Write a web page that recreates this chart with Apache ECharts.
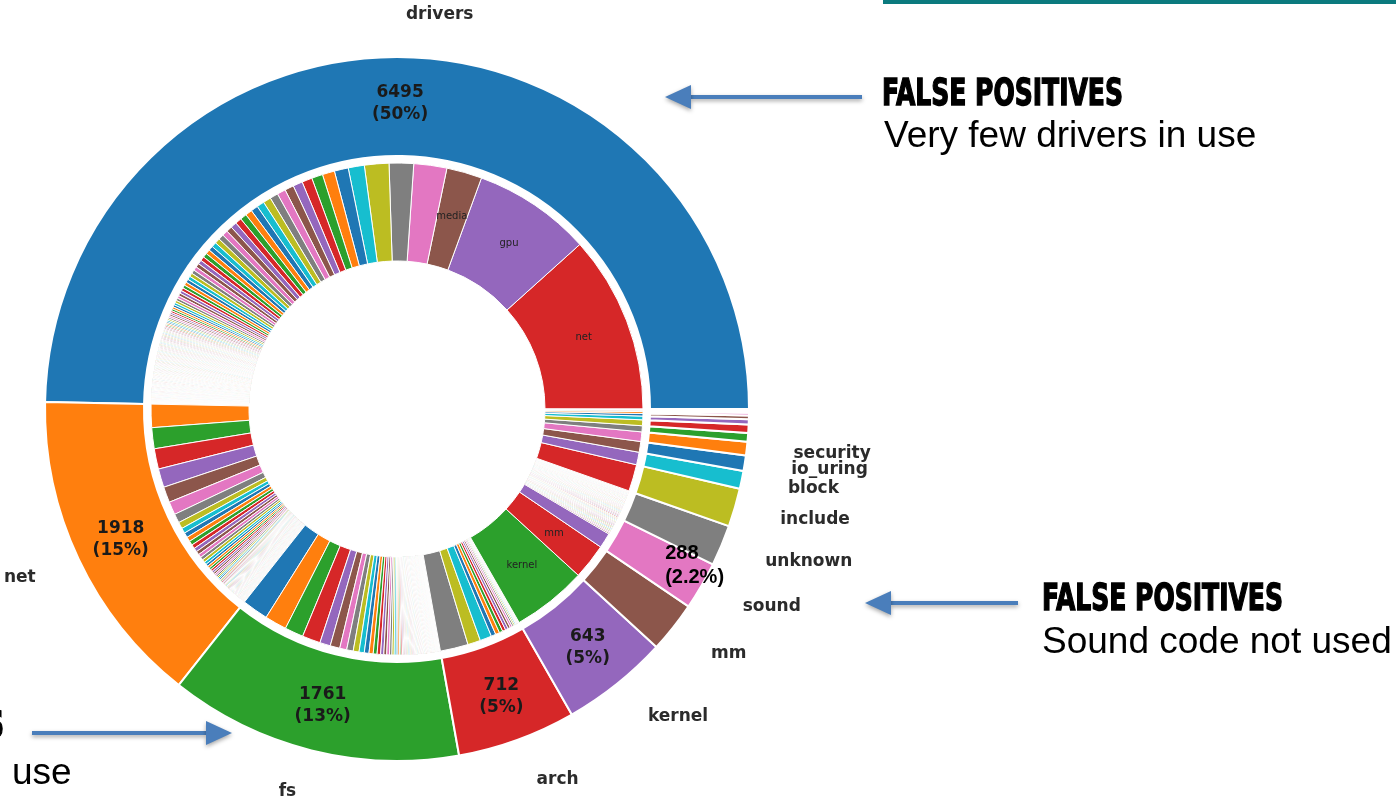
<!DOCTYPE html>
<html>
<head>
<meta charset="utf-8">
<script src="https://cdn.jsdelivr.net/npm/echarts@6/dist/echarts.min.js"></script>
<style>
html,body{margin:0;padding:0;background:#fff;}
#chart{width:1396px;height:801px;}
</style>
</head>
<body>
<div id="chart"></div>
<script>
// ---------------- DATA ----------------
const categories = ['drivers','net','fs','arch','kernel','mm','sound','unknown','include','block','io_uring','security','crypto','lib','virt','ipc','init','certs','samples','scripts'];
const categoryValues = [6495,1918,1761,712,643,305,288,245,230,108,92,82,52,50,32,22,16,10,7,5];
const namedCategories = ['drivers','net','fs','arch','kernel','mm','sound','unknown','include','block','io_uring','security'];
const percentCategories = ['drivers','net','fs','arch','kernel'];
const annotatedCategory = 'sound';

// sub-directory counts (inner ring), per top-level directory
const driversSub = [1525,1014,304,283,210,210,
  138,120,105,95,88,82,77,73,70,67,64,61,58,56,54,52,50,48,46,44,42,40,38,37,36,
  35,34,33,32,31,30,29,28,27,26,25,24,23,22,21,20,19,18,17,16,15,15,14,14,13,13,12,12,11,11,10,10,
  9,9,9,9,9,9,9,9,9,9,
  8,8,8,8,8,8,8,8,8,8,8,8,
  7,7,7,7,7,7,7,7,7,7,7,7,7,7,
  6,6,6,6,6,6,6,6,6,6,6,6,6,6,6,6,
  5,5,5,5,5,5,5,5,5,5,5,5,5,5,5,5,5,5,
  4,4,4,4,4,4,4,4,4,4,4,4,4,4,4,4,4,4,4,4,
  3,3,3,3,3,3,3,3,3,3,3,3,3,3,3,3,3,3,3,3,
  2,2,2,2,2,2,2,2,2,2,2,2,2,
  1,1,1,1,1,1,1,1,1,1,1,1];
const driversSubNames = ['net','gpu','media'];
const netSub = [200,180,175,160,135,112,78,56,
  45,42,40,37,35,33,31,29,27,25,23,21,20,19,18,17,16,15,14,13,12,11,10,10,
  9,9,9,8,8,8,8,8,7,7,7,7,7,6,6,6,6,6,6,5,5,5,5,5,5,5,5,
  4,4,4,4,4,4,4,4,3,3,3,3,3,3,3,3,3,2,2,2,2,2,2,2,2,2,1,1,1,1];
const fsSub = [225,188,160,156,91,83,60,56,50,45,
  40,36,33,30,27,25,23,21,19,17,15,14,13,12,11,10,
  9,9,9,9,8,8,8,8,8,7,7,7,7,7,7,6,6,6,6,6,6,6,5,5,5,5,5,5,5,5,
  4,4,4,4,4,4,4,4,4,3,3,3,3,3,3,3,3,3,3,2,2,2,2,2,2,2,2,2,2,2,2,2,1,1,1,1,1,1,1,1,1];
const archSub = [240,110,100,40,35,30,27,24,21,18,15,12,10,4,4,3,3,3,3,2,2,2,2,1,1];
const kernelSub = [643];
const kernelSubNames = ['kernel'];
const mmSub = [305];
const mmSubNames = ['mm'];
const soundSub = [130,11,10,10,10,9,9,9,9,9,9,8,8,8,8,8,8,8,7];
const unknownSub = [10,10,9,9,9,8,8,8,8,7,7,7,7,7,6,6,6,6,6,6,5,5,5,5,5,5,4,4,4,4,4,4,4,3,3,3,3,3,3,3,2,2,2,2,2,2,1,1,1,1];
const includeSub = [230];
const blockSub = [108];
const ioUringSub = [92];
const securitySub = [82];
const cryptoSub = [52];
const libSub = [50];
const virtSub = [32];
const ipcSub = [22];
const initSub = [16];
const certsSub = [10];
const samplesSub = [7];
const scriptsSub = [5];

const subGroups = [driversSub,netSub,fsSub,archSub,kernelSub,mmSub,soundSub,unknownSub,includeSub,blockSub,ioUringSub,securitySub,cryptoSub,libSub,virtSub,ipcSub,initSub,certsSub,samplesSub,scriptsSub];
const subGroupNames = {drivers: driversSubNames, kernel: kernelSubNames, mm: mmSubNames};

// slide annotations
const noteTitle = 'FALSE POSITIVES';
const noteDrivers = 'Very few drivers in use';
const noteSound = 'Sound code not used';
const noteFsTail = 'use';

// ---------------- STYLE ----------------
const TAB10 = ['#1f77b4','#ff7f0e','#2ca02c','#d62728','#9467bd','#8c564b','#e377c2','#7f7f7f','#bcbd22','#17becf'];
const INNER_COLOR_START = 3;
const CENTER = [397, 409];
const OUTER_RADIUS = [253, 352];
const INNER_RADIUS = [148, 246];
const ARROW = '#4a7ebb';

const outerData = categories.map((c, i) => ({
  name: c, value: categoryValues[i],
  itemStyle: {color: TAB10[i % 10]},
  label: {show: namedCategories.includes(c)}
}));
const pctData = categories.map((c, i) => {
  const d = {name: c, value: categoryValues[i], label: {show: percentCategories.includes(c) || c === annotatedCategory}};
  if (c === annotatedCategory) d.label.padding = [6, 0, 0, 72];
  return d;
});
const innerData = [];
let gi = 0;
categories.forEach((c, ci) => {
  const names = subGroupNames[c] || [];
  subGroups[ci].forEach((v, j) => {
    innerData.push({
      name: names[j] || (c + '/' + (j + 1)), value: v,
      itemStyle: {color: TAB10[(INNER_COLOR_START + gi) % 10]},
      label: {show: !!names[j]}
    });
    gi++;
  });
});

function fitScale(text, font, target) {
  const ctx = document.createElement('canvas').getContext('2d');
  ctx.font = font;
  return target / ctx.measureText(text).width;
}
const titleFont = 'bold 37px "Liberation Sans Narrow", "DejaVu Sans Condensed", "Liberation Sans", sans-serif';
const titleScale = fitScale(noteTitle, titleFont, 241);
const bodyFont = '37px "Liberation Sans", Arial, sans-serif';

function arrow(x1, x2, y) { // from x1 (tail) to x2 (tip)
  const dir = x2 > x1 ? 1 : -1;
  const base = x2 - dir * 26;
  const sh = {shadowBlur: 4, shadowColor: 'rgba(0,0,0,0.35)', shadowOffsetY: 2};
  return [
    {type: 'line', silent: true, shape: {x1: x1, y1: y, x2: base, y2: y}, style: Object.assign({stroke: ARROW, lineWidth: 4}, sh)},
    {type: 'polygon', silent: true, shape: {points: [[x2, y], [base, y - 12], [base, y + 12]]}, style: Object.assign({fill: ARROW}, sh)}
  ];
}
function title(x, y, align) {
  return {type: 'text', x: x, y: y, scaleX: titleScale, silent: true,
    style: {text: noteTitle, font: titleFont, fill: '#000', stroke: '#000', lineWidth: 1.4, align: align || 'left', verticalAlign: 'middle'}};
}
function body(x, y, t) {
  return {type: 'text', x: x, y: y, silent: true, style: {text: t, font: bodyFont, fill: '#000', align: 'left', verticalAlign: 'middle'}};
}

const chart = echarts.init(document.getElementById('chart'), null, {renderer: 'canvas'});
chart.setOption({
  animation: false,
  backgroundColor: '#fff',
  series: [
    {
      type: 'pie', center: CENTER, radius: OUTER_RADIUS, startAngle: 0, clockwise: false,
      avoidLabelOverlap: false, silent: true,
      labelLayout: {hideOverlap: false},
      itemStyle: {borderColor: '#fff', borderWidth: 2},
      label: {position: 'outside', fontFamily: 'DejaVu Sans', fontSize: 17, fontWeight: 'bold', color: '#2b2b2b', distanceToLabelLine: 5},
      labelLine: {show: false, length: 42, length2: 0},
      data: outerData
    },
    {
      type: 'pie', center: CENTER, radius: OUTER_RADIUS, startAngle: 0, clockwise: false,
      avoidLabelOverlap: false, silent: true, z: 5,
      labelLayout: {hideOverlap: false},
      itemStyle: {color: 'transparent', borderWidth: 0},
      label: {
        position: 'inside', fontFamily: 'DejaVu Sans', fontSize: 17, fontWeight: 'bold', color: '#1a1a1a', lineHeight: 22,
        formatter: p => p.name === annotatedCategory
          ? '{ann|' + p.value + '}\n{ann|(' + p.percent.toFixed(1) + '%)}'
          : p.value + '\n(' + Math.round(p.percent) + '%)',
        rich: {ann: {fontFamily: 'Liberation Sans', fontWeight: 'bold', fontSize: 20, lineHeight: 24, color: '#000', width: 64, align: 'left'}}
      },
      labelLine: {show: false},
      data: pctData
    },
    {
      type: 'pie', center: CENTER, radius: INNER_RADIUS, startAngle: 0, clockwise: false,
      avoidLabelOverlap: false, silent: true,
      labelLayout: {hideOverlap: false},
      itemStyle: {borderColor: '#fff', borderWidth: 1},
      label: {position: 'inside', fontFamily: 'DejaVu Sans', fontSize: 10, color: '#222'},
      labelLine: {show: false},
      data: innerData
    }
  ],
  graphic: [
    {type: 'rect', silent: true, shape: {x: 883, y: 0, width: 513, height: 4}, style: {fill: '#0b7a7e'}},
    ...arrow(862, 665, 97),
    title(882, 95),
    body(884, 137, noteDrivers),
    ...arrow(1018, 865, 603),
    title(1042, 600),
    body(1042, 643, noteSound),
    ...arrow(32, 232, 733),
    title(4, 727, 'right'),
    body(12, 774, noteFsTail)
  ]
});
</script>
</body>
</html>
